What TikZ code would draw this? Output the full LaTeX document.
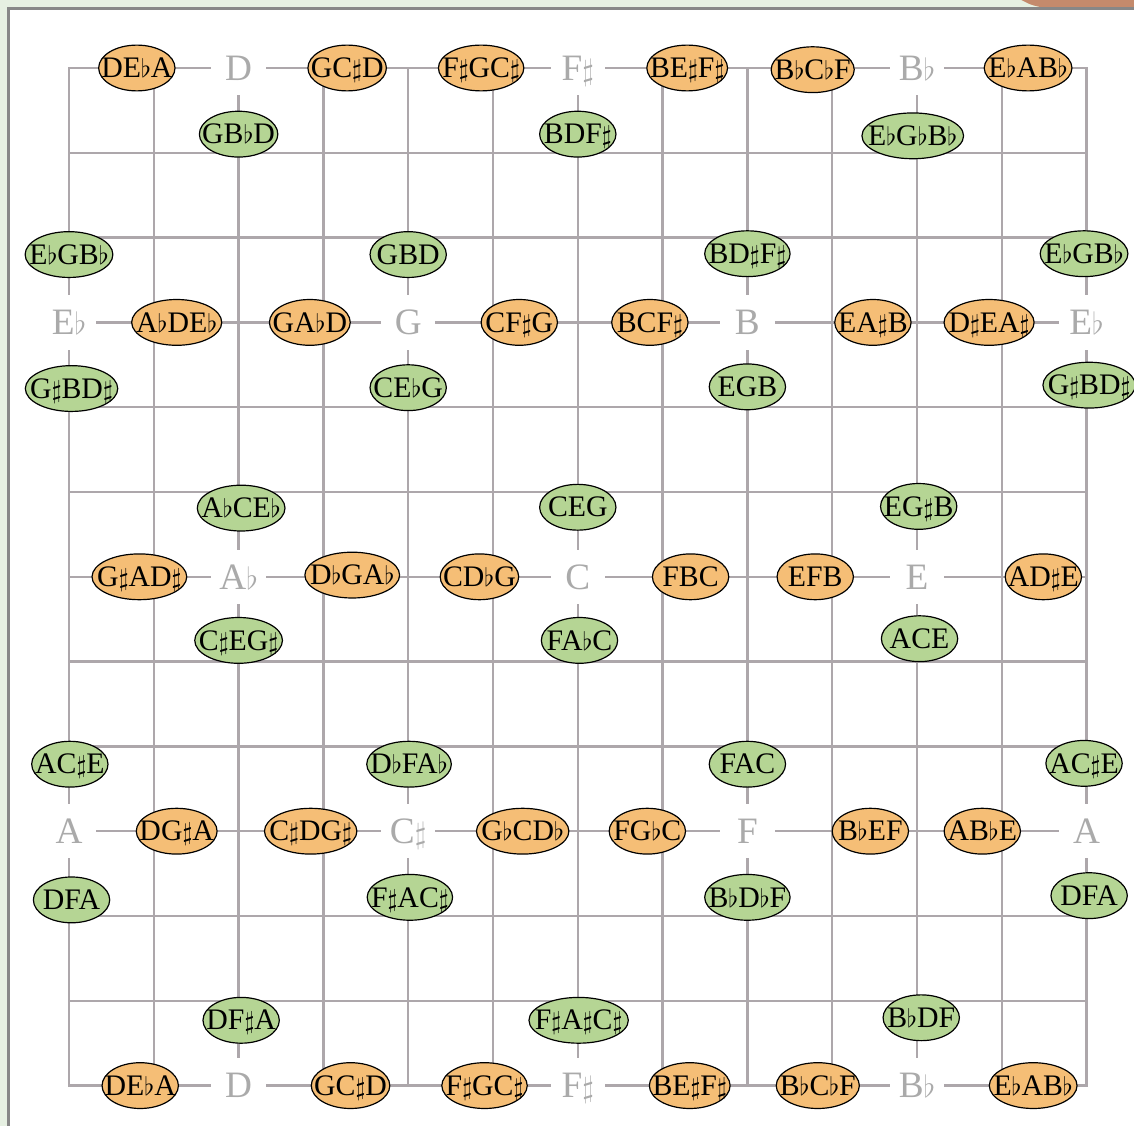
\documentclass[tikz,border=0pt]{standalone}
\usepackage{fontspec}
\setmainfont{Liberation Serif}
\usepackage{graphicx}
\usetikzlibrary{shapes.geometric}
\definecolor{chordorange}{RGB}{245,190,118}
\definecolor{chordgreen}{RGB}{181,213,148}
\definecolor{gridgray}{RGB}{173,167,171}
\definecolor{notegray}{RGB}{170,170,170}
\definecolor{pagegreen}{RGB}{230,240,226}
\definecolor{framegray}{RGB}{135,135,135}
\definecolor{cornerbrown}{RGB}{196,138,108}
\newcommand{\flt}{\scalebox{0.85}{$\flat$}}
\newcommand{\shp}{\scalebox{0.85}{$\sharp$}}

\begin{document}
\begin{tikzpicture}[
        orange/.style={ellipse, draw=black, line width=0.4pt, fill=chordorange, minimum width=0.9cm, minimum height=0.54cm, inner xsep=-2.9pt, inner ysep=0pt, text height=6.5pt, text depth=0pt, font=\fontsize{10}{12}\selectfont},
        green/.style={orange, fill=chordgreen},
        pitch/.style={fill=white, text=notegray, minimum size=0.64cm, inner sep=0.5pt, text height=8.2pt, text depth=0pt, font=\fontsize{12.5}{15}\selectfont},
        gridline/.style={draw=gridgray, line width=0.85pt, line cap=rect}
    ]
    \useasboundingbox (-0.8137,0.8019) rectangle (12.559,-12.476);
    \clip (-0.8137,0.8019) rectangle (12.559,-12.476);

    % page and frame
    \fill[pagegreen] (-0.8137,0.8019) rectangle (12.559,-12.476);
    \fill[white] (-0.715,0.705) rectangle (13,-13);
    \fill[cornerbrown] (11.215,0.81) .. controls (11.35,0.74) .. (11.509,0.708) -- (12.6,0.708) -- (12.6,0.81) -- cycle;
    \draw[framegray, line width=1pt] (13,0.705) -- (-0.715,0.705) -- (-0.715,-13);

    % grid
    \foreach \i in {0,...,12} {
        \coordinate (T\i) at (\i,0);
        \coordinate (B\i) at (\i,-12);
        \coordinate (L\i) at (0,-\i);
        \coordinate (R\i) at (12,-\i);
        \draw[gridline] (T\i) -- (B\i);
        \draw[gridline] (L\i) -- (R\i);
    }

    % single notes
    \node[pitch] (D0) at (2,0) {D};
    \node[pitch] (Fs0) at (6,0) {F\shp};
    \node[pitch] (Bb0) at (10,0) {B\flt};
    \node[pitch] (Eb3) at (0,-3) {E\flt};
    \node[pitch] (G3) at (4,-3) {G};
    \node[pitch] (B3) at (8,-3) {B};
    \node[pitch] (Eb3r) at (12,-3) {E\flt};
    \node[pitch] (Ab6) at (2,-6) {A\flt};
    \node[pitch] (C6) at (6,-6) {C};
    \node[pitch] (E6) at (10,-6) {E};
    \node[pitch] (A9) at (0,-9) {A};
    \node[pitch] (Cs9) at (4,-9) {C\shp};
    \node[pitch] (F9) at (8,-9) {F};
    \node[pitch] (A9r) at (12,-9) {A};
    \node[pitch] (D12) at (2,-12) {D};
    \node[pitch] (Fs12) at (6,-12) {F\shp};
    \node[pitch] (Bb12) at (10,-12) {B\flt};

    % orange chords along the note rows
    \node[orange] (DEbA0) at (0.80,0) {DE\flt A};
    \node[orange] (GCsD0) at (3.28,0) {GC\shp D};
    \node[orange] (FsGCs0) at (4.86,0) {F\shp GC\shp};
    \node[orange] (BEsFs0) at (7.29,0) {BE\shp F\shp};
    \node[orange] (BbCbF0) at (8.77,-0.02) {B\flt C\flt F};
    \node[orange] (EbABb0) at (11.31,0) {E\flt AB\flt};

    \node[orange] (AbDEb) at (1.27,-3) {A\flt DE\flt};
    \node[orange] (GAbD) at (2.84,-3) {GA\flt D};
    \node[orange] (CFsG) at (5.31,-3) {CF\shp G};
    \node[orange] (BCFs) at (6.85,-3) {BCF\shp};
    \node[orange] (EAsB) at (9.48,-3) {EA\shp B};
    \node[orange] (DsEAs) at (10.85,-3) {D\shp EA\shp};

    \node[orange] (GsADs) at (0.83,-6) {G\shp AD\shp};
    \node[orange] (DbGAb) at (3.34,-5.98) {D\flt GA\flt};
    \node[orange] (CDbG) at (4.84,-6) {CD\flt G};
    \node[orange] (FBC) at (7.33,-6) {FBC};
    \node[orange] (EFB) at (8.80,-6) {EFB};
    \node[orange] (ADsE) at (11.49,-6) {AD\shp E};

    \node[orange] (DGsA) at (1.27,-9) {DG\shp A};
    \node[orange] (CsDGs) at (2.85,-9) {C\shp DG\shp};
    \node[orange] (GbCDb) at (5.35,-9) {G\flt CD\flt};
    \node[orange] (FGbC) at (6.82,-9) {FG\flt C};
    \node[orange] (BbEF) at (9.45,-9) {B\flt EF};
    \node[orange] (ABbE) at (10.77,-9) {AB\flt E};

    \node[orange] (DEbA12) at (0.84,-12) {DE\flt A};
    \node[orange] (GCsD12) at (3.32,-12) {GC\shp D};
    \node[orange] (FsGCs12) at (4.90,-12) {F\shp GC\shp};
    \node[orange] (BEsFs12) at (7.32,-12) {BE\shp F\shp};
    \node[orange] (BbCbF12) at (8.83,-12) {B\flt C\flt F};
    \node[orange] (EbABb12) at (11.37,-12) {E\flt AB\flt};

    % green triads along the note columns
    \node[green] (EbGBbL) at (0,-2.2) {E\flt GB\flt};
    \node[green] (GsBDsL) at (0.03,-3.78) {G\shp BD\shp};
    \node[green] (ACsEL) at (0.01,-8.21) {AC\shp E};
    \node[green] (DFAL) at (0.03,-9.81) {DFA};

    \node[green] (GBbD) at (2,-0.78) {GB\flt D};
    \node[green] (AbCEb) at (2.03,-5.19) {A\flt CE\flt};
    \node[green] (CsEGs) at (2,-6.75) {C\shp EG\shp};
    \node[green] (DFsA) at (2.03,-11.23) {DF\shp A};

    \node[green] (GBD) at (4,-2.2) {GBD};
    \node[green] (CEbG) at (4,-3.77) {CE\flt G};
    \node[green] (DbFAb) at (4.01,-8.21) {D\flt FA\flt};
    \node[green] (FsACs) at (4.02,-9.78) {F\shp AC\shp};

    \node[green] (BDFs) at (6,-0.78) {BDF\shp};
    \node[green] (CEG) at (6,-5.18) {CEG};
    \node[green] (FAbC) at (6.02,-6.75) {FA\flt C};
    \node[green] (FsAsCs) at (6.01,-11.23) {F\shp A\shp C\shp};

    \node[green] (BDsFs) at (8,-2.19) {BD\shp F\shp};
    \node[green] (EGB) at (8,-3.76) {EGB};
    \node[green] (FAC) at (8,-8.21) {FAC};
    \node[green] (BbDbF) at (8,-9.78) {B\flt D\flt F};

    \node[green] (EbGbBb) at (9.95,-0.8) {E\flt G\flt B\flt};
    \node[green] (EGsB) at (10.02,-5.17) {EG\shp B};
    \node[green] (ACE) at (10.03,-6.73) {ACE};
    \node[green] (BbDF) at (10.05,-11.2) {B\flt DF};

    \node[green] (EbGBbR) at (11.97,-2.19) {E\flt GB\flt};
    \node[green] (GsBDsR) at (12.03,-3.74) {G\shp BD\shp};
    \node[green] (ACsER) at (11.97,-8.2) {AC\shp E};
    \node[green] (DFAR) at (12.03,-9.76) {DFA};
\end{tikzpicture}
\end{document}
